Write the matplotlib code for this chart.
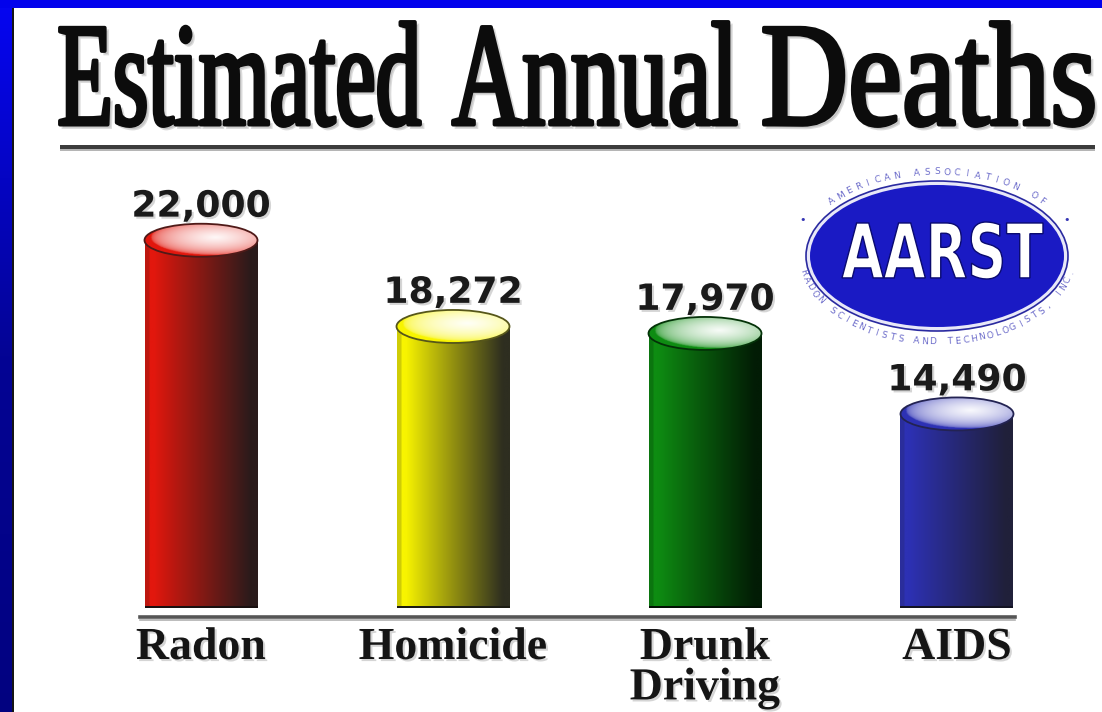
import numpy as np
import matplotlib
matplotlib.use("Agg")
import matplotlib.pyplot as plt
from matplotlib.patches import Ellipse, Rectangle, PathPatch
from matplotlib.textpath import TextPath
from matplotlib.font_manager import FontProperties
from matplotlib.transforms import Affine2D, blended_transform_factory
from matplotlib.colors import to_rgb, LinearSegmentedColormap
from matplotlib.lines import Line2D
import matplotlib.patheffects as pe

# ---- data -------------------------------------------------------------
title = "Estimated Annual Deaths"
categories = ["Radon", "Homicide", "Drunk\nDriving", "AIDS"]
deaths = [22000, 18272, 17970, 14490]
value_labels = ["22,000", "18,272", "17,970", "14,490"]

# cylinder shading: lit side / shadow side
bar_light = ["#e2170d", "#f8f400", "#0e8c12", "#2d31b4"]
bar_dark = ["#2a1b1b", "#2e2e20", "#021c05", "#20203a"]

logo_name = "AARST"
logo_top = "AMERICAN ASSOCIATION OF"
logo_bottom = "RADON SCIENTISTS AND TECHNOLOGISTS, INC."

# ---- canvas -----------------------------------------------------------
W, H, DPI = 1102, 712, 100
fig = plt.figure(figsize=(W / DPI, H / DPI), dpi=DPI)
fig.patch.set_facecolor("white")

# background layer in pixel units (y grows downward)
bg = fig.add_axes([0, 0, 1, 1])
bg.set_xlim(0, W)
bg.set_ylim(H, 0)
bg.axis("off")

# frame: blue band on top, shaded blue band on the left
bg.add_patch(Rectangle((0, 0), W, 8, color="#0202ec", lw=0, zorder=5))
left_cmap = LinearSegmentedColormap.from_list("frame", ["#0606f2", "#040494", "#020280"])
bg.imshow(np.linspace(0, 1, 256).reshape(-1, 1), cmap=left_cmap, aspect="auto",
          extent=[0, 12, H, 0], zorder=4)
bg.add_patch(Rectangle((12, 8), 2.2, H, color="#151515", lw=0, zorder=5))
bg.set_xlim(0, W)
bg.set_ylim(H, 0)


def fitted_words(text, box, prop):
    """Text outline scaled into box = (x0, y0, x1, y1) in pixel units."""
    p = TextPath((0, 0), text, size=100, prop=prop)
    e = p.get_extents()
    x0, y0, x1, y1 = box
    tf = (Affine2D().translate(-e.x0, -e.y0)
          .scale((x1 - x0) / e.width, -(y1 - y0) / e.height)
          .translate(x0, y1))
    return tf.transform_path(p)


# title, one word per box, condensed serif
title_font = FontProperties(family="Liberation Serif", weight="normal")
word_boxes = [(60, 22, 420, 126), (453, 22, 736, 126), (764, 22, 1093, 126)]
for word, box in zip(title.split(), word_boxes):
    wp = fitted_words(word, box, title_font)
    sp = Affine2D().translate(3, 3).transform_path(wp)
    bg.add_patch(PathPatch(sp, fc="#9a9a9a", ec="#b0b0b0", lw=2.0, alpha=0.45, zorder=2))
    bg.add_patch(PathPatch(wp, fc="#0c0c0c", ec="#0c0c0c", lw=2.8,
                           joinstyle="round", zorder=3))

# rule under the title
bg.add_patch(Rectangle((60, 145), 1035, 3.5, color="#3c3c3c", lw=0, zorder=3))
bg.add_patch(Rectangle((60, 148.5), 1035, 2, color="#b5b5b5", lw=0, zorder=2))

# ---- logo -------------------------------------------------------------
lcx, lcy = 937, 256
bg.add_patch(Ellipse((lcx, lcy), 262, 150, fc="#e8e8f8", ec="#2a2aa0", lw=1.2, zorder=3))
bg.add_patch(Ellipse((lcx, lcy), 254, 142, fc="#1a1ac4", ec="none", zorder=3))

logo_path = fitted_words(logo_name, (842, 222, 1043, 279),
                         FontProperties(family="DejaVu Sans", weight="bold"))
bg.add_patch(PathPatch(logo_path, fc="white", ec="#0a0a70", lw=1.0, zorder=4))


def ring_text(text, t_start, t_end, ra, rb, clockwise):
    ts = np.linspace(np.radians(t_start), np.radians(t_end), 2000)
    xs = lcx + ra * np.cos(ts)
    ys = lcy - rb * np.sin(ts)
    seg = np.hypot(np.diff(xs), np.diff(ys))
    s = np.concatenate([[0], np.cumsum(seg)])
    n = len(text)
    targets = (np.arange(n) + 0.5) / n * s[-1]
    for ch, st in zip(text, targets):
        k = min(np.searchsorted(s, st), len(ts) - 1)
        t = ts[k]
        if clockwise:
            ang = np.degrees(np.arctan2(-rb * np.cos(t), ra * np.sin(t)))
        else:
            ang = np.degrees(np.arctan2(rb * np.cos(t), -ra * np.sin(t)))
        bg.text(xs[k], ys[k], ch, rotation=ang, rotation_mode="anchor",
                ha="center", va="center", fontsize=6.5,
                color="#3a3ab8", alpha=0.75, zorder=4)


ring_text(logo_top, 142, 38, 138, 84, True)
ring_text(logo_bottom, 188, 352, 136, 86, False)
for dx in (-134, 130):
    bg.text(lcx + dx, 220, "\u2022", ha="center", va="center", fontsize=8,
            color="#3636b4", zorder=4)

# ---- cylinders --------------------------------------------------------
px_per_unit = 0.02313
base = 6100
ax_top_px, ax_bot_px = 160, 608
ax_h_px = ax_bot_px - ax_top_px
ymax = base + ax_h_px / px_per_unit

x0_px, step_px = 201, 252
left_px, right_px = 140, 1015
xlim = ((left_px - x0_px) / step_px, (right_px - x0_px) / step_px)
ax = fig.add_axes([left_px / W, 1 - ax_bot_px / H, (right_px - left_px) / W, ax_h_px / H])
ax.patch.set_alpha(0)
ax.axis("off")

xpos = np.arange(len(deaths))
bw = 113 / step_px
cap_h = 33 / ax_h_px * (ymax - base)

bars = ax.bar(xpos, np.array(deaths) - base, bottom=base, width=bw,
              color="none", edgecolor="none", zorder=2)

shadow = [pe.withSimplePatchShadow(offset=(1.5, -1.5), shadow_rgbFace="#888888", alpha=0.35)]
u = np.linspace(0, 1, 200)
for i, (rect, v) in enumerate(zip(bars, deaths)):
    light = np.array(to_rgb(bar_light[i]))
    dark = np.array(to_rgb(bar_dark[i]))
    f = np.clip((u - 0.08) / 0.86, 0, 1) ** 0.95
    f = np.where(u < 0.04, 0.2, f)
    body = light[None, :] * (1 - f[:, None]) + dark[None, :] * f[:, None]
    im = ax.imshow(body[None, :, :], extent=[i - bw / 2, i + bw / 2, base, v],
                   aspect="auto", zorder=2, interpolation="bilinear")
    im.set_clip_path(rect)
    ax.add_patch(Rectangle((i - bw / 2, base), bw, 0.004 * (ymax - base),
                           color=dark * 0.6, lw=0, zorder=3))

    # lit top cap
    cap = Ellipse((i, v), bw, cap_h, fc="none", ec=dark * 0.8 + light * 0.2,
                  lw=1.3, zorder=4)
    ax.add_patch(cap)
    gx, gy = np.meshgrid(np.linspace(-1, 1, 120), np.linspace(-1, 1, 60))
    d = np.sqrt(((gx - 0.25) / 1.15) ** 2 + ((gy - 0.2) / 1.1) ** 2)
    tw = np.clip(1 - d, 0, 1) ** 0.35 * 0.97
    capimg = light[None, None, :] * (1 - tw[..., None]) + tw[..., None]
    ci = ax.imshow(capimg, extent=[i - bw / 2, i + bw / 2, v - cap_h / 2, v + cap_h / 2],
                   origin="lower", aspect="auto", zorder=3, interpolation="bilinear")
    ci.set_clip_path(cap)

    ax.annotate(value_labels[i], xy=(i, v), xytext=(0, 17), textcoords="offset points",
                ha="center", va="baseline", fontsize=26, fontweight="bold",
                family="DejaVu Sans", color="#1a1a1a", zorder=5, path_effects=shadow)

ax.set_ylim(base, ymax)
ax.set_xlim(*xlim)

# base rule
ybase = -(617 - ax_bot_px) / ax_h_px
ax.add_line(Line2D([0, 1], [ybase, ybase], transform=ax.transAxes, color="#555555",
                   lw=2.6, clip_on=False, zorder=3))
ax.add_line(Line2D([0, 1], [ybase - 3 / ax_h_px] * 2, transform=ax.transAxes,
                   color="#b0b0b0", lw=1.2, clip_on=False, zorder=2))

# category names
lab_tf = blended_transform_factory(ax.transData, ax.transAxes)
ylab = -(627 - ax_bot_px) / ax_h_px
for i, name in enumerate(categories):
    ax.text(i, ylab, name, transform=lab_tf, ha="center", va="top",
            fontsize=33, fontweight="bold", family="Liberation Serif",
            color="#151515", linespacing=0.95, clip_on=False, path_effects=shadow)

fig.savefig("out.png", dpi=DPI, facecolor="white")
